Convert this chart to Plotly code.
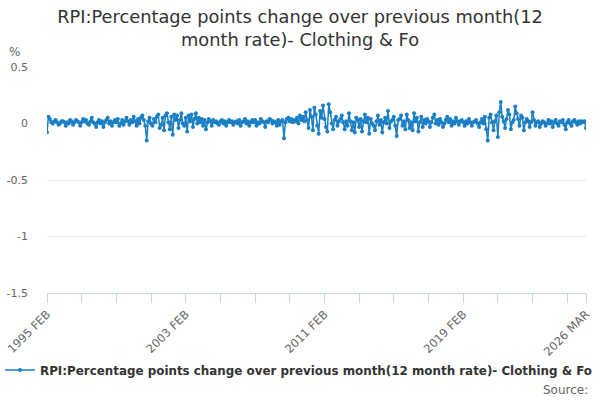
import plotly.graph_objects as go

MONTHS = ["JAN", "FEB", "MAR", "APR", "MAY", "JUN", "JUL", "AUG", "SEP", "OCT", "NOV", "DEC"]

# Monthly values, Feb 1995 .. Mar 2026
v1995 = [-0.08, 0.06, 0.04, 0.01, 0.00, 0.02, 0.03, 0.01, -0.01, 0.00, 0.02]
v1996 = [0.02, 0.01, -0.02, 0.01, 0.00, 0.03, 0.02, -0.01, 0.01, 0.03, 0.02, 0.01]
v1997 = [-0.02, 0.01, 0.04, 0.02, 0.03, 0.00, -0.01, 0.02, 0.05, 0.01, 0.00, -0.03]
v1998 = [0.01, 0.03, 0.00, 0.02, -0.03, 0.01, 0.03, 0.05, 0.00, 0.02, -0.02, 0.01]
v1999 = [0.03, 0.01, 0.04, -0.02, 0.00, 0.03, -0.01, 0.02, 0.05, 0.02, -0.01, 0.03]
v2000 = [0.01, 0.06, 0.02, -0.02, 0.04, 0.00, 0.05, 0.07, 0.03, -0.02, -0.15, 0.02]
v2001 = [0.05, 0.00, -0.02, 0.04, 0.01, 0.06, 0.08, -0.04, -0.01, 0.05, -0.06, 0.07]
v2002 = [0.09, 0.01, -0.05, 0.06, -0.10, 0.08, 0.03, 0.07, -0.04, 0.03, 0.09, 0.00]
v2003 = [-0.02, 0.05, -0.07, 0.07, 0.02, 0.08, -0.03, 0.04, 0.09, 0.00, 0.05, 0.01]
v2004 = [0.04, -0.02, 0.03, -0.05, 0.01, 0.04, 0.02, -0.02, 0.03, 0.01, 0.02, 0.00]
v2005 = [-0.01, 0.02, 0.03, 0.00, 0.02, -0.02, 0.01, 0.03, 0.01, 0.02, -0.01, 0.01]
v2006 = [0.02, 0.00, 0.03, -0.02, 0.01, 0.02, 0.04, 0.00, 0.02, -0.02, 0.01, 0.03]
v2007 = [0.01, 0.03, -0.02, 0.01, 0.00, 0.04, 0.02, 0.01, -0.03, 0.02, 0.01, 0.04]
v2008 = [0.03, 0.00, 0.02, 0.01, -0.02, 0.03, -0.01, 0.02, 0.03, -0.13, 0.01, 0.04]
v2009 = [0.05, 0.02, 0.04, 0.01, 0.03, 0.02, 0.05, 0.00, 0.07, 0.03, 0.06, 0.02]
v2010 = [0.10, 0.03, -0.04, 0.12, 0.06, -0.06, 0.14, 0.08, -0.02, -0.09, 0.11, 0.05]
v2011 = [0.16, 0.04, -0.03, -0.07, 0.17, 0.10, 0.00, -0.05, 0.03, 0.06, -0.02, 0.02]
v2012 = [0.04, 0.07, 0.01, -0.05, 0.02, -0.02, 0.09, 0.02, -0.06, 0.01, -0.08, 0.05]
v2013 = [0.03, -0.03, 0.04, -0.07, 0.02, 0.08, 0.01, 0.05, -0.09, 0.04, 0.00, -0.02]
v2014 = [-0.06, 0.02, 0.07, -0.01, 0.03, -0.08, 0.01, 0.05, 0.00, 0.11, -0.04, 0.02]
v2015 = [0.03, 0.06, -0.02, -0.11, 0.03, 0.04, 0.07, -0.02, 0.02, -0.05, 0.08, 0.03]
v2016 = [-0.04, 0.01, -0.06, 0.09, 0.02, 0.05, -0.07, 0.01, 0.06, -0.03, 0.03, 0.00]
v2017 = [0.04, 0.02, -0.03, 0.01, 0.05, 0.08, 0.00, 0.03, -0.01, 0.04, 0.01, -0.03]
v2018 = [0.00, 0.03, 0.06, 0.01, 0.04, -0.02, 0.02, 0.00, 0.05, 0.02, -0.01, 0.02]
v2019 = [0.03, 0.01, -0.02, 0.02, 0.00, 0.04, 0.01, -0.02, 0.01, 0.02, 0.03, 0.00]
v2020 = [-0.03, 0.01, 0.04, 0.00, 0.06, -0.05, -0.15, 0.05, 0.08, 0.01, -0.06, 0.02]
v2021 = [0.07, -0.12, 0.10, 0.19, 0.06, 0.02, -0.04, 0.04, 0.12, 0.08, -0.05, 0.01]
v2022 = [0.03, 0.15, 0.09, 0.04, -0.02, 0.07, 0.05, -0.06, 0.01, 0.04, 0.02, -0.03]
v2023 = [0.01, 0.10, 0.03, -0.02, 0.01, 0.02, -0.03, 0.00, 0.02, 0.01, -0.02, 0.00]
v2024 = [0.03, 0.00, 0.02, -0.03, 0.01, 0.03, 0.00, -0.02, 0.02, 0.01, 0.03, -0.01]
v2025 = [-0.05, 0.01, 0.03, 0.00, -0.02, 0.02, 0.03, 0.01, -0.01, 0.02, 0.00, 0.02]
v2026 = [0.01, 0.02, -0.04]

yearly = [v1995, v1996, v1997, v1998, v1999, v2000, v2001, v2002, v2003, v2004,
          v2005, v2006, v2007, v2008, v2009, v2010, v2011, v2012, v2013, v2014,
          v2015, v2016, v2017, v2018, v2019, v2020, v2021, v2022, v2023, v2024,
          v2025, v2026]

categories = []
values = []
for i, vals in enumerate(yearly):
    year = 1995 + i
    start = 1 if year == 1995 else 0
    for j, v in enumerate(vals):
        categories.append(f"{year} {MONTHS[start + j]}")
        values.append(v)

tick_cats = [f"{y} FEB" for y in range(1995, 2026, 2)] + ["2026 MAR"]
tick_labels = ["1995 FEB", "2003 FEB", "2011 FEB", "2019 FEB", "2026 MAR"]
tick_text = [c if c in tick_labels else "" for c in tick_cats]

y_ticks = [-1.5, -1, -0.5, 0, 0.5]
y_tick_text = ["-1.5", "-1", "-0.5", "0", "0.5"]

series_name = "RPI:Percentage points change over previous month(12 month rate)- Clothing & Fo"
title_text = "RPI:Percentage points change over previous month(12<br>month rate)- Clothing & Fo"

FONT = "DejaVu Sans"
BLUE = "#1a7fc4"

# plot area in pixels
L, R, T, B = 47, 586, 67, 293
PW, PH = R - L, B - T

fig = go.Figure()
fig.add_trace(go.Scatter(
    x=categories, y=values, mode="lines+markers", name=series_name,
    line=dict(color=BLUE, width=1.5),
    marker=dict(color=BLUE, size=4),
))

fig.update_layout(
    width=600, height=400,
    margin=dict(l=L, r=600 - R, t=T, b=400 - B, autoexpand=False),
    paper_bgcolor="white", plot_bgcolor="white",
    font=dict(family=FONT, color="#666666"),
    title=dict(text=title_text, x=0.5, xref="container", xanchor="center",
               y=0.9425, yref="container", yanchor="top", automargin=False,
               font=dict(family=FONT, size=17.8, color="#333333")),
    showlegend=True,
    legend=dict(orientation="h", x=0, xref="container", xanchor="left",
                y=1 - 370 / 400, yref="container", yanchor="middle",
                font=dict(family=FONT, size=11.9, color="#333333", weight="bold"),
                itemwidth=30, bgcolor="rgba(0,0,0,0)"),
    xaxis=dict(type="category", categoryorder="array", categoryarray=categories,
               range=[0, len(categories) - 1], automargin=False,
               tickmode="array", tickvals=tick_cats, ticktext=tick_text,
               tickangle=-45, ticks="outside", ticklen=9, tickcolor="#ccd6eb",
               showline=True, linecolor="#ccd6eb", linewidth=1,
               showgrid=False, zeroline=False,
               tickfont=dict(family=FONT, size=11.5, color="#666666")),
    yaxis=dict(range=[-1.5, 0.5], tickvals=y_ticks, ticktext=y_tick_text,
               automargin=False, ticklabelstandoff=18,
               showgrid=True, gridcolor="#e6e6e6", gridwidth=1,
               zeroline=False, showline=False, ticks="",
               tickfont=dict(family=FONT, size=11, color="#666666")),
)

fig.add_annotation(text="%", xref="paper", yref="paper",
                   x=(14 - L) / PW, y=1 + (T - 52) / PH,
                   xanchor="center", yanchor="middle", showarrow=False,
                   font=dict(family=FONT, size=12, color="#666666"))
fig.add_annotation(text="Source:", xref="paper", yref="paper",
                   x=(590 - L) / PW, y=-(390 - B) / PH,
                   xanchor="right", yanchor="middle", showarrow=False,
                   font=dict(family=FONT, size=12, color="#666666"))

fig.write_html("out.html", config={"displayModeBar": False},
               post_script="document.body.style.margin='0';document.body.style.overflow='hidden';")
